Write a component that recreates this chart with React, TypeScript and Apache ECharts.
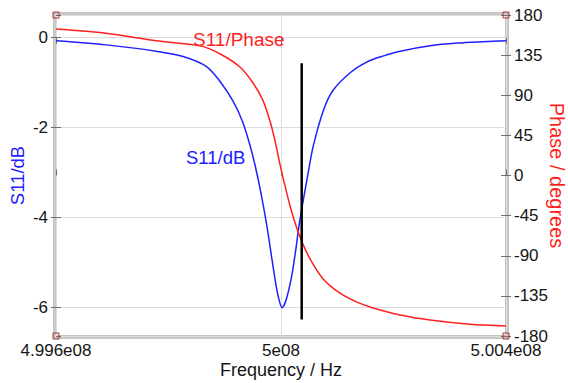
import React, { useEffect, useRef } from "react";
import * as echarts from "echarts";

const FONT = 'Arial, "Liberation Sans", Helvetica, sans-serif';

// X axis (Hz)
const xTickValues = [499600000, 500000000, 500400000];
const xTickLabels = ["4.996e08", "5e08", "5.004e08"];

// S11 magnitude (dB)
const dbFreq = [
  499600000, 499689000, 499778000, 499826000, 499867000, 499892000, 499915000,
  499932000, 499945000, 499955000, 499965000, 499975000, 499986000, 499994000,
  500002000, 500010000, 500021000, 500034000, 500048000, 500057000,
  500075000, 500092000, 500123000, 500153000, 500181000, 500212000, 500265000,
  500313000, 500359000, 500400000,
];
const dbValues = [
  -0.07, -0.16, -0.3, -0.42, -0.64, -0.98, -1.42,
  -1.88, -2.4, -2.9, -3.5, -4.2, -5.1, -5.7,
  -6.01, -5.8, -5.16, -4.03, -3.03, -2.43,
  -1.63, -1.18, -0.78, -0.54, -0.41, -0.3, -0.18,
  -0.12, -0.09, -0.07,
];

// S11 phase (degrees)
const phaseFreq = [
  499600000, 499689000, 499778000, 499856000, 499892000, 499927000, 499950000,
  499968000, 499980000, 499989000, 499998000, 500003000, 500010000, 500016000,
  500028000, 500039000, 500052000, 500075000, 500105000, 500135000, 500164000,
  500212000, 500265000, 500336000, 500400000,
];
const phaseValues = [
  164.3, 159.5, 151.2, 145.4, 136.3, 121.7, 104,
  84, 62, 40, 13, -1, -19, -34,
  -59, -77, -94, -116, -132, -142, -148.6,
  -156.5, -162.1, -166.9, -168.8,
];

// Vertical marker line
const markerFreq = [500036800, 500036800];
const markerDb = [-0.57, -6.27];

// Axis ranges
const dbMin = -6.64;
const dbMax = 0.505;
const dbStep = 2;
const phaseMin = -180;
const phaseMax = 180;
const phaseStep = 45;

const G = { left: 56, top: 15, width: 450, height: 321 };

export default function App() {
  const ref = useRef<HTMLDivElement>(null);
  useEffect(() => {
    if (!ref.current) return;
    const chart = echarts.init(ref.current, undefined, { renderer: "svg" });
    const tickLine = { lineStyle: { color: "#6f6f6f", width: 1 } };
    const labelStyle = { fontSize: 17, color: "#151515", fontFamily: FONT };
    const xFmt = (v: number) => {
      const i = xTickValues.findIndex((t) => Math.abs(t - v) < 1);
      return i >= 0 ? xTickLabels[i] : "";
    };
    const R = G.left + G.width;
    const B = G.top + G.height;
    const corners = [
      [G.left, G.top],
      [R, G.top],
      [G.left, B],
      [R, B],
    ];
    chart.setOption({
      animation: false,
      grid: {
        left: G.left,
        top: G.top,
        width: G.width,
        height: G.height,
        show: true,
        borderColor: "#858585",
        borderWidth: 1,
        containLabel: false,
        outerBoundsMode: "none",
      },
      xAxis: [
        {
          type: "value",
          min: xTickValues[0],
          max: xTickValues[2],
          interval: xTickValues[1] - xTickValues[0],
          position: "bottom",
          axisLine: { show: false },
          axisTick: { show: true, length: 6, ...tickLine },
          axisLabel: { ...labelStyle, margin: 6, formatter: xFmt },
          splitLine: { show: true, lineStyle: { color: "#dcdcdc", width: 1 } },
          name: "Frequency / Hz",
          nameLocation: "middle",
          nameGap: 25,
          nameMoveOverlap: false,
          nameTextStyle: { fontSize: 18, color: "#151515", fontFamily: FONT },
        },
        {
          type: "value",
          min: xTickValues[0],
          max: xTickValues[2],
          interval: xTickValues[1] - xTickValues[0],
          position: "bottom",
          axisLine: { show: false },
          axisTick: { show: true, inside: true, length: 6, ...tickLine },
          axisLabel: { show: false },
          splitLine: { show: false },
        },
      ],
      yAxis: [
        {
          type: "value",
          position: "left",
          min: dbMin,
          max: dbMax,
          minInterval: dbStep,
          maxInterval: dbStep,
          axisLine: { show: false },
          axisTick: { show: true, length: 5, ...tickLine },
          axisLabel: { ...labelStyle, margin: 8, showMinLabel: false, showMaxLabel: false },
          splitLine: { show: true, lineStyle: { color: "#dcdcdc", width: 1 } },
          name: "S11/dB",
          nameLocation: "middle",
          nameGap: 29,
          nameMoveOverlap: false,
          nameTextStyle: { fontSize: 18.5, color: "#2222ff", fontFamily: FONT },
        },
        {
          type: "value",
          position: "right",
          min: phaseMin,
          max: phaseMax,
          interval: phaseStep,
          axisLine: { show: false },
          axisTick: { show: true, length: 5, ...tickLine },
          axisLabel: { ...labelStyle, margin: 8 },
          splitLine: { show: false },
          name: "Phase / degrees",
          nameLocation: "middle",
          nameRotate: -90,
          nameGap: 41,
          nameMoveOverlap: false,
          nameTextStyle: { fontSize: 20, color: "#ff1f1f", fontFamily: FONT },
        },
        {
          type: "value",
          position: "left",
          min: dbMin,
          max: dbMax,
          minInterval: dbStep,
          maxInterval: dbStep,
          axisLine: { show: false },
          axisTick: { show: true, inside: true, length: 5, ...tickLine },
          axisLabel: { show: false },
          splitLine: { show: false },
        },
        {
          type: "value",
          position: "right",
          min: phaseMin,
          max: phaseMax,
          interval: phaseStep,
          axisLine: { show: false },
          axisTick: { show: true, inside: true, length: 5, ...tickLine },
          axisLabel: { show: false },
          splitLine: { show: false },
        },
      ],
      series: [
        {
          type: "line",
          name: "S11/dB",
          xAxisIndex: 0,
          yAxisIndex: 0,
          data: dbFreq.map((f, i) => [f, dbValues[i]]),
          showSymbol: false,
          smooth: 0.3,
          lineStyle: { color: "#2020ff", width: 1.5 },
          z: 3,
        },
        {
          type: "line",
          name: "S11/Phase",
          xAxisIndex: 0,
          yAxisIndex: 1,
          data: phaseFreq.map((f, i) => [f, phaseValues[i]]),
          showSymbol: false,
          smooth: 0.3,
          lineStyle: { color: "#ff1f1f", width: 1.5 },
          z: 3,
        },
        {
          type: "line",
          name: "marker",
          xAxisIndex: 0,
          yAxisIndex: 0,
          data: markerFreq.map((f, i) => [f, markerDb[i]]),
          showSymbol: false,
          lineStyle: { color: "#000000", width: 2.5 },
          z: 4,
        },
      ],
      graphic: [
        {
          type: "rect",
          shape: { x: G.left - 2, y: G.top - 2, width: G.width + 4, height: G.height + 4 },
          style: { stroke: "#8a8a8a", fill: "none", lineWidth: 1 },
          silent: true,
        },
        {
          type: "rect",
          shape: { x: G.left - 1, y: G.top - 1, width: G.width + 2, height: G.height + 2 },
          style: { stroke: "#cfcfcf", fill: "none", lineWidth: 1 },
          silent: true,
        },
        ...corners.map(([cx, cy]) => ({
          type: "rect",
          shape: { x: cx - 3, y: cy - 3, width: 6, height: 6 },
          style: { stroke: "#a83434", fill: "none", lineWidth: 1 },
          z: 100,
          silent: true,
        })),
        {
          type: "text",
          x: 193,
          y: 39,
          style: {
            text: "S11/Phase",
            fontSize: 19,
            fontFamily: FONT,
            fill: "#ff1f1f",
            align: "left",
            verticalAlign: "middle",
          },
          z: 50,
        },
        {
          type: "text",
          x: 186,
          y: 157,
          style: {
            text: "S11/dB",
            fontSize: 18.5,
            fontFamily: FONT,
            fill: "#2020ff",
            align: "left",
            verticalAlign: "middle",
          },
          z: 50,
        },
      ],
    });
    return () => chart.dispose();
  }, []);
  return (
    <div
      ref={ref}
      style={{ position: "fixed", left: 0, top: 0, width: 568, height: 383, background: "#ffffff" }}
    />
  );
}
